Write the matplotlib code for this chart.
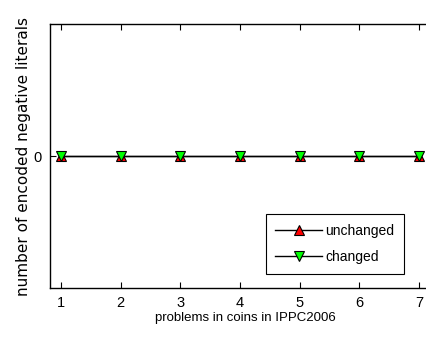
import matplotlib
matplotlib.use("Agg")
import matplotlib.pyplot as plt

# data
problems = [1, 2, 3, 4, 5, 6, 7]
unchanged = [0, 0, 0, 0, 0, 0, 0]
changed = [0, 0, 0, 0, 0, 0, 0]

plt.rcParams['font.family'] = ['Liberation Sans', 'DejaVu Sans']

W, H = 427, 340
fig = plt.figure(figsize=(W / 100, H / 100), dpi=100)
# axes runs past the right edge, like the cropped original
ax = fig.add_axes([50 / W, 1 - 288 / H, 390 / W, 264 / H])

ax.plot(problems, unchanged, color='k', lw=1, marker='^', ms=7,
        mfc='red', mec='k', mew=0.8, label='unchanged')
ax.plot(problems, changed, color='k', lw=1, marker='v', ms=7,
        mfc='#00ff00', mec='k', mew=0.8, label='changed')

ax.set_xlim(0.816, 7.35)
ax.set_ylim(-1, 1)
ax.set_xticks(problems)
ax.set_yticks([0])
ax.tick_params(direction='in', top=True, right=True, length=4, width=0.8,
               labelsize=10.5, pad=6)
for s in ax.spines.values():
    s.set_linewidth(1)

ax.set_xlabel('problems in coins in IPPC2006', fontsize=9.5, labelpad=1)
ax.set_ylabel('number of encoded negative literals', fontsize=11,
              family='DejaVu Sans', labelpad=2)

leg = ax.legend(loc='lower right', bbox_to_anchor=(404 / W, 1 - 274 / H),
                bbox_transform=fig.transFigure, borderaxespad=0,
                fancybox=False, edgecolor='k', framealpha=1, fontsize=10,
                handlelength=3.4, borderpad=0.7, labelspacing=0.9,
                handletextpad=0.2)
leg.get_frame().set_linewidth(0.8)

fig.savefig('out.png', dpi=100)
